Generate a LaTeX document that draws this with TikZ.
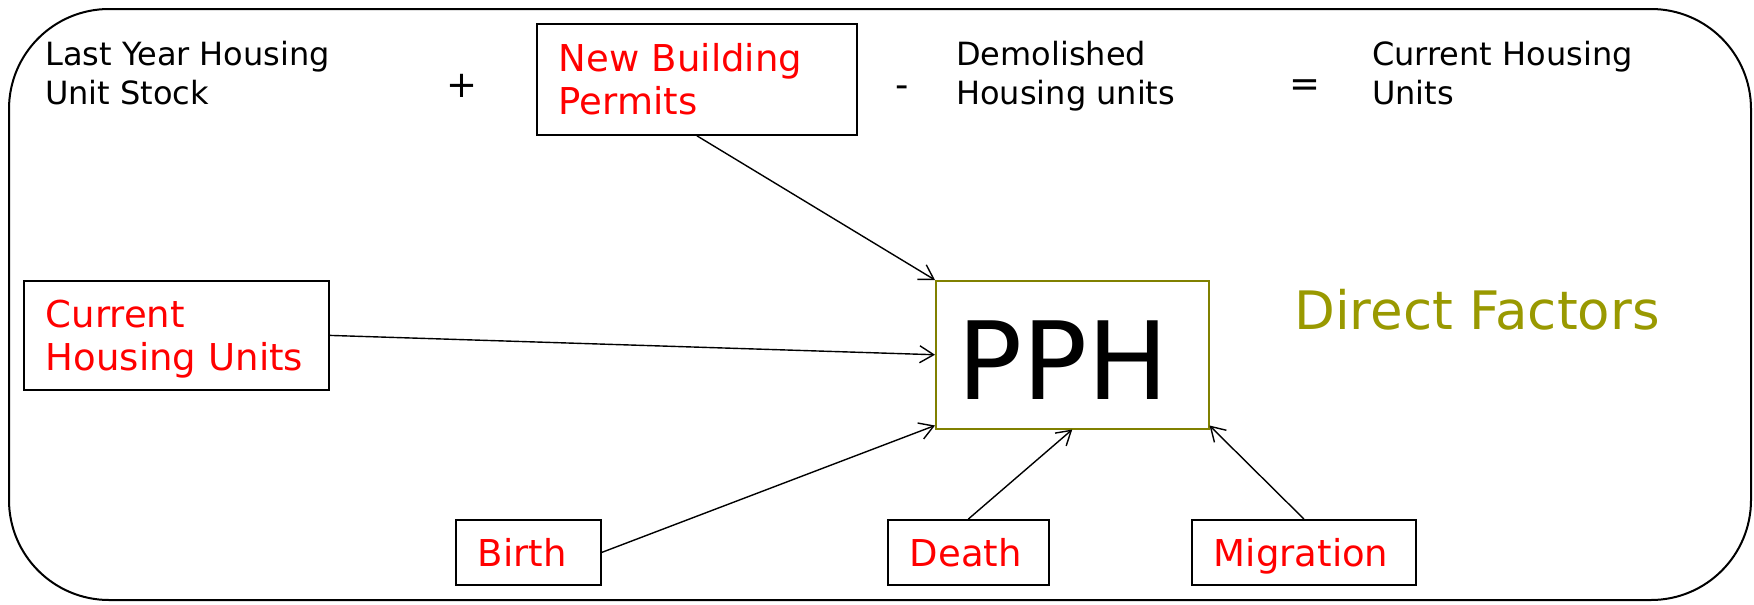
\documentclass[tikz,border=0pt]{standalone}
\usepackage{fontspec}
\setmainfont{DejaVu Sans}
\usetikzlibrary{arrows.meta}
\definecolor{redtxt}{HTML}{FF0000}
\definecolor{olivebd}{HTML}{808000}
\definecolor{olivetx}{HTML}{999900}
\begin{document}
\begin{tikzpicture}[x=1pt,y=-1pt,
  lbl/.style={font=\fontsize{32}{39}\selectfont, align=left, anchor=north west, inner sep=0pt},
  factor/.style={draw=black, line width=1.8pt, text=redtxt, font=\fontsize{37}{43.5}\selectfont,
     align=left, anchor=north west, inner xsep=22pt, inner ysep=0pt},
  oneline/.style={factor, text depth=0pt, minimum height=65pt},
  opsym/.style={font=\fontsize{37}{40}\selectfont, inner sep=0pt},
  link/.style={line width=1.4pt, -{Straight Barb[length=14pt,width=17pt,line width=1.4pt]}}]
\useasboundingbox (0,0) rectangle (1754,605);
\draw[line width=2pt, rounded corners=100pt] (9,9) rectangle (1751,600);

\node[lbl] (lys) at (45,41) {Last Year Housing\\Unit Stock};
\node[opsym] (plus) at (462,86) {+};
\node[factor, text width=276pt, minimum height=111pt] (nbp) at (536,23) {New Building\\Permits};
\node[opsym] (minus) at (902,92) {-};
\node[opsym] (eq) at (1305,88) {=};
\node[lbl] (dem) at (956,41) {Demolished\\Housing units};
\node[lbl] (cur) at (1372,41) {Current Housing\\Units};

\node[factor, text width=261pt, minimum height=109pt, text depth=43.5pt] (chu) at (23,280) {Current\\Housing Units};
\node[draw=olivebd, line width=1.5pt, anchor=north west, minimum width=273pt, minimum height=148pt,
  text width=230pt, inner xsep=21pt, inner ysep=0pt, text height=90pt, text depth=0pt,
  align=left, font=\fontsize{108}{110}\selectfont] (pph) at (935,280) {PPH};
\node[text=olivetx, font=\fontsize{53}{60}\selectfont, anchor=west, inner sep=0pt] (df) at (1294,310) {Direct Factors};

\node[oneline, text width=101pt] (birth) at (455,519) {Birth};
\node[oneline, text width=117pt] (death) at (887,519) {Death};
\node[oneline, text width=180pt] (mig) at (1191,519) {Migration};

\draw[link] (nbp.south) -- (pph.north west);
\draw[link] (chu.east) -- (pph.west);
\draw[link] (birth.east) -- ([yshift=4pt]pph.south west);
\draw[link] (death.north) -- (pph.south);
\draw[link] (mig.north) -- ([yshift=4pt]pph.south east);
\end{tikzpicture}
\end{document}
